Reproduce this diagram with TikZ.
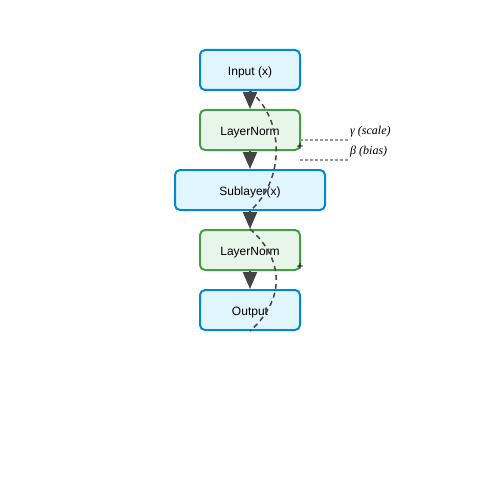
\documentclass[tikz,border=0pt]{standalone}
\usepackage{fontspec}
\setmainfont{Liberation Sans}
\newfontfamily\serifit{Liberation Serif}
\usetikzlibrary{arrows.meta}
\definecolor{bluefill}{HTML}{E1F5FE}
\definecolor{blueline}{HTML}{0288D1}
\definecolor{greenfill}{HTML}{E8F5E9}
\definecolor{greenline}{HTML}{43A047}
\definecolor{arrowc}{HTML}{444444}
\definecolor{paramc}{HTML}{999999}
\tikzset{
  box/.style={draw, line width=2pt, rounded corners=5pt, minimum height=40pt, inner sep=0pt, font=\fontsize{12}{14}\selectfont},
  bluebox/.style={box, fill=bluefill, draw=blueline},
  greenbox/.style={box, fill=greenfill, draw=greenline},
  boxtext/.style={inner sep=0pt, font=\fontsize{12}{14}\selectfont},
  flow/.style={draw=arrowc, line width=2pt, -{Triangle[length=17pt,width=14pt]}},
  resid/.style={draw=arrowc, line width=1.5pt, dash pattern=on 5pt off 4pt},
  param/.style={draw=paramc, line width=1.3pt, dash pattern=on 3pt off 2pt},
  plab/.style={anchor=west, inner sep=0pt, font=\serifit\itshape\fontsize{12}{14}\selectfont},
  plus/.style={inner sep=0pt, font=\fontsize{12}{12}\selectfont}
}
\begin{document}
\begin{tikzpicture}[x=1pt,y=-1pt]
\useasboundingbox (0,0) rectangle (500,500);
\node[bluebox, minimum width=100pt] (in) at (250,70) {};
\node[greenbox, minimum width=100pt] (ln1) at (250,130) {};
\node[bluebox, minimum width=150pt] (sub) at (250,190) {};
\node[greenbox, minimum width=100pt] (ln2) at (250,250) {};
\node[bluebox, minimum width=100pt] (out) at (250,310) {};
\node[boxtext] (tin) at (250,72.3) {Input (x)};
\node[boxtext] (tln1) at (250,132.3) {LayerNorm};
\node[boxtext] (tsub) at (250,192.3) {Sublayer(x)};
\node[boxtext] (tln2) at (250,252.3) {LayerNorm};
\node[boxtext] (tout) at (250,312.3) {Output};
\draw[flow] (in.south) -- (ln1.north);
\draw[flow] (ln1.south) -- (sub.north);
\draw[flow] (sub.south) -- (ln2.north);
\draw[flow] (ln2.south) -- (out.north);
\draw[resid] (in.south) .. controls (285,120) and (285,180) .. (sub.south);
\draw[resid] (ln2.north) .. controls (285,260) and (285,300) .. (out.south);
\node[plus] (p1) at (300,147) {+};
\node[plus] (p2) at (300,267) {+};
\coordinate (g0) at (300,140);
\coordinate (b0) at (300,160);
\node[plab] (gam) at (350,132) {γ (scale)};
\node[plab] (bet) at (350,152) {β (bias)};
\draw[param] (g0) -- (350,140);
\draw[param] (b0) -- (350,160);
\end{tikzpicture}
\end{document}
